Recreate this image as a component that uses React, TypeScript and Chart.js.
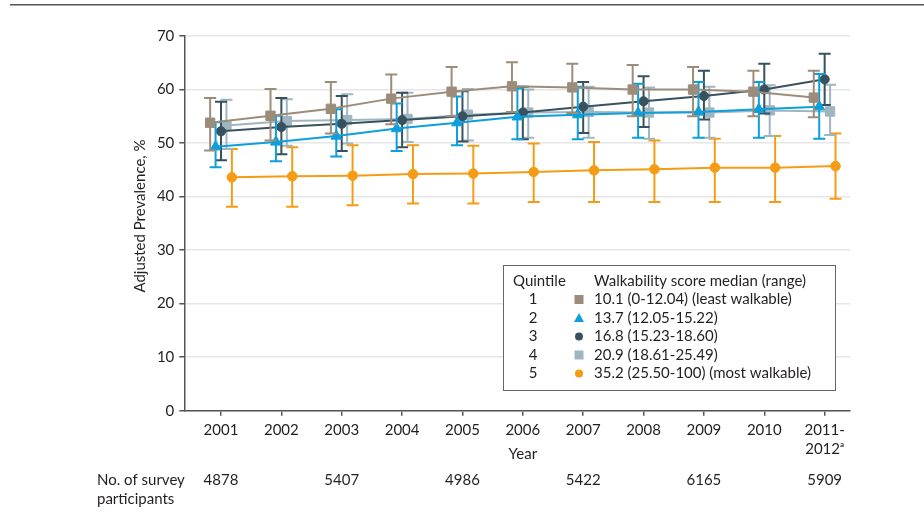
import React, { useEffect, useRef } from "react";
import { Chart, registerables } from "chart.js";

Chart.register(...registerables);

// ---------- data ----------
const yearLabels: (string | string[])[] = [
  "2001", "2002", "2003", "2004", "2005", "2006", "2007", "2008", "2009", "2010",
  ["2011-", "2012\u1d43"],
];

const q1Mean = [53.8, 55.1, 56.4, 58.3, 59.6, 60.6, 60.4, 60.0, 60.0, 59.6, 58.5];
const q1Low = [48.6, 50.5, 51.8, 53.5, 55.0, 55.8, 55.6, 55.0, 55.0, 55.0, 54.8];
const q1High = [58.4, 60.1, 61.4, 62.8, 64.2, 65.1, 64.8, 64.6, 64.2, 63.5, 63.5];

const q2Mean = [49.3, 50.2, 51.3, 52.7, 53.8, 54.9, 55.3, 55.6, 55.8, 56.3, 56.8];
const q2Low = [45.5, 46.6, 47.5, 48.5, 49.6, 50.7, 50.7, 51.0, 51.0, 51.0, 50.8];
const q2High = [53.9, 55.1, 56.3, 57.4, 58.7, 60.2, 60.5, 61.1, 61.4, 61.4, 62.9];

const q3Mean = [52.2, 53.0, 53.6, 54.3, 55.0, 55.7, 56.8, 57.8, 58.8, 60.0, 61.9];
const q3Low = [46.8, 47.9, 48.5, 49.2, 50.3, 50.7, 51.9, 53.0, 54.4, 55.5, 57.1];
const q3High = [57.7, 58.4, 58.8, 59.4, 59.7, 60.5, 61.4, 62.5, 63.5, 64.8, 66.7];

const q4Mean = [53.3, 54.1, 54.3, 54.5, 55.3, 55.7, 55.8, 55.7, 55.7, 56.1, 55.9];
const q4Low = [48.9, 49.5, 49.9, 50.2, 50.5, 51.0, 51.0, 50.8, 51.0, 51.3, 51.5];
const q4High = [58.1, 58.2, 59.1, 59.4, 60.1, 60.0, 60.5, 60.4, 60.5, 60.8, 60.9];

const q5Mean = [43.6, 43.8, 43.9, 44.2, 44.3, 44.6, 44.9, 45.1, 45.4, 45.4, 45.7];
const q5Low = [38.1, 38.1, 38.4, 38.7, 38.7, 39.0, 39.0, 39.0, 39.0, 39.0, 39.6];
const q5High = [48.9, 49.2, 49.6, 49.6, 49.5, 49.9, 50.2, 50.5, 50.8, 51.3, 51.8];

const quintileNumbers = ["1", "2", "3", "4", "5"];
const legendTexts = [
  "10.1 (0-12.04) (least walkable)",
  "13.7 (12.05-15.22)",
  "16.8 (15.23-18.60)",
  "20.9 (18.61-25.49)",
  "35.2 (25.50-100) (most walkable)",
];

const participantCounts: (number | null)[] = [4878, null, 5407, null, 4986, null, 5422, null, 6165, null, 5909];

// ---------- styles ----------
const FONT = "Lato, 'DejaVu Sans', sans-serif";
const TEXT = "#231f20";
const AXIS = "#555555";
const colors = ["#9c8d7b", "#0d9fdb", "#37525e", "#9fb6c1", "#f59c16"];
const pointStyles = ["rect", "triangle", "circle", "rect", "circle"];
const pointRadii = [6.6, 6.2, 4.6, 6.6, 4.8];
const offsets = [-0.18, -0.09, 0, 0.09, 0.18];

const seriesList = [
  { mean: q1Mean, low: q1Low, high: q1High },
  { mean: q2Mean, low: q2Low, high: q2High },
  { mean: q3Mean, low: q3Low, high: q3High },
  { mean: q4Mean, low: q4Low, high: q4High },
  { mean: q5Mean, low: q5Low, high: q5High },
];

function drawMarker(ctx: CanvasRenderingContext2D, style: string, x: number, y: number, size: number) {
  ctx.beginPath();
  if (style === "rect") {
    ctx.rect(x - size / 2, y - size / 2, size, size);
  } else if (style === "triangle") {
    const h = size * 0.9;
    ctx.moveTo(x, y - h / 2 - 1);
    ctx.lineTo(x + size / 2 + 0.5, y + h / 2);
    ctx.lineTo(x - size / 2 - 0.5, y + h / 2);
    ctx.closePath();
  } else {
    ctx.arc(x, y, size / 2 - 0.5, 0, Math.PI * 2);
  }
  ctx.fill();
}

const errorBarPlugin = {
  id: "errorBars",
  beforeDatasetDraw(chart: any, args: any) {
    const i = args.index;
    const s = seriesList[i];
    if (!s) return;
    const xs = chart.scales.x;
    const ys = chart.scales.y;
    const ctx: CanvasRenderingContext2D = chart.ctx;
    ctx.save();
    ctx.strokeStyle = colors[i];
    ctx.lineWidth = 2;
    const cap = 6;
    for (let k = 0; k < s.low.length; k++) {
      const px = xs.getPixelForValue(k + offsets[i]);
      const pl = ys.getPixelForValue(s.low[k]);
      const ph = ys.getPixelForValue(s.high[k]);
      ctx.beginPath();
      ctx.moveTo(px, pl);
      ctx.lineTo(px, ph);
      ctx.moveTo(px - cap, pl);
      ctx.lineTo(px + cap, pl);
      ctx.moveTo(px - cap, ph);
      ctx.lineTo(px + cap, ph);
      ctx.stroke();
    }
    ctx.restore();
  },
};

const decorPlugin = {
  id: "decor",
  afterDraw(chart: any) {
    const ctx: CanvasRenderingContext2D = chart.ctx;
    const xs = chart.scales.x;
    const area = chart.chartArea;
    ctx.save();

    // top rule
    ctx.strokeStyle = AXIS;
    ctx.lineWidth = 1.5;
    ctx.beginPath();
    ctx.moveTo(10, 4.7);
    ctx.lineTo(chart.width, 4.7);
    ctx.stroke();

    // y axis title
    ctx.fillStyle = TEXT;
    ctx.font = `15px ${FONT}`;
    ctx.textAlign = "center";
    ctx.textBaseline = "middle";
    ctx.save();
    ctx.translate(140, 216);
    ctx.rotate(-Math.PI / 2);
    ctx.fillText("Adjusted Prevalence, %", 0, 0);
    ctx.restore();

    // x axis title
    ctx.fillText("Year", xs.getPixelForValue(5), 454);

    // participants row
    ctx.textAlign = "left";
    ctx.fillText("No. of survey", 97, 480);
    ctx.fillText("participants", 97, 499);
    ctx.textAlign = "center";
    participantCounts.forEach((n, k) => {
      if (n == null) return;
      ctx.fillText(String(n), xs.getPixelForValue(k), 480);
    });

    // legend box
    const bx = 503, by = 265, bw = 332, bh = 125;
    ctx.fillStyle = "#ffffff";
    ctx.fillRect(bx, by, bw, bh);
    ctx.strokeStyle = "#666666";
    ctx.lineWidth = 1;
    ctx.strokeRect(bx + 0.5, by + 0.5, bw, bh);

    ctx.fillStyle = TEXT;
    ctx.textAlign = "left";
    ctx.fillText("Quintile", 513, 281);
    ctx.fillText("Walkability score median (range)", 594, 281);
    const rowY = [299.5, 318, 336.5, 355, 373.5];
    for (let i = 0; i < 5; i++) {
      ctx.fillStyle = TEXT;
      ctx.textAlign = "center";
      ctx.fillText(quintileNumbers[i], 533, rowY[i]);
      ctx.textAlign = "left";
      ctx.fillText(legendTexts[i], 594, rowY[i]);
      ctx.fillStyle = colors[i];
      drawMarker(ctx, pointStyles[i], 579, rowY[i], pointStyles[i] === "circle" ? 9 : 9);
    }
    ctx.restore();
  },
};

export default function App() {
  const canvasRef = useRef<HTMLCanvasElement | null>(null);

  useEffect(() => {
    if (!canvasRef.current) return;
    const datasets = seriesList.map((s, i) => ({
      label: quintileNumbers[i],
      data: s.mean.map((v, k) => ({ x: k + offsets[i], y: v })),
      borderColor: colors[i],
      backgroundColor: colors[i],
      borderWidth: 2,
      pointStyle: pointStyles[i] as any,
      pointRadius: pointRadii[i],
      pointBorderWidth: 1,
      pointBorderColor: colors[i],
      pointBackgroundColor: colors[i],
      tension: 0,
      fill: false,
    }));

    const chart = new Chart(canvasRef.current, {
      type: "line",
      data: { datasets },
      plugins: [errorBarPlugin, decorPlugin],
      options: {
        animation: false,
        responsive: true,
        maintainAspectRatio: false,
        layout: { padding: { top: 36, right: 74, left: 0, bottom: 0 } },
        plugins: {
          legend: { display: false },
          tooltip: { enabled: false },
        },
        scales: {
          x: {
            type: "linear",
            min: -0.608,
            max: 10.42,
            afterBuildTicks: (scale: any) => {
              scale.ticks = yearLabels.map((_, i) => ({ value: i }));
            },
            afterFit: (scale: any) => {
              scale.height = 529 - 410.7;
            },
            ticks: {
              autoSkip: false,
              maxRotation: 0,
              minRotation: 0,
              padding: 5,
              color: TEXT,
              font: { family: FONT, size: 15, lineHeight: 1.25 },
              callback: (v: any) => yearLabels[Math.round(Number(v))] as any,
            },
            grid: {
              display: true,
              drawOnChartArea: false,
              drawTicks: true,
              tickLength: 5,
              tickColor: AXIS,
              lineWidth: 1.5,
            },
            border: { display: true, color: AXIS, width: 1.5 },
          },
          y: {
            min: 0,
            max: 70,
            afterFit: (scale: any) => {
              scale.width = 184.3;
            },
            ticks: {
              stepSize: 10,
              padding: 5,
              color: TEXT,
              font: { family: FONT, size: 15 },
            },
            grid: {
              color: "#e6e6e6",
              lineWidth: 1.5,
              drawTicks: true,
              tickLength: 5,
              tickColor: AXIS,
            },
            border: { display: true, color: AXIS, width: 1.5 },
          },
        },
      },
    });
    return () => chart.destroy();
  }, []);

  return (
    <div style={{ position: "fixed", left: 0, top: 0, width: 924, height: 529, background: "#ffffff" }}>
      <canvas ref={canvasRef} />
    </div>
  );
}
